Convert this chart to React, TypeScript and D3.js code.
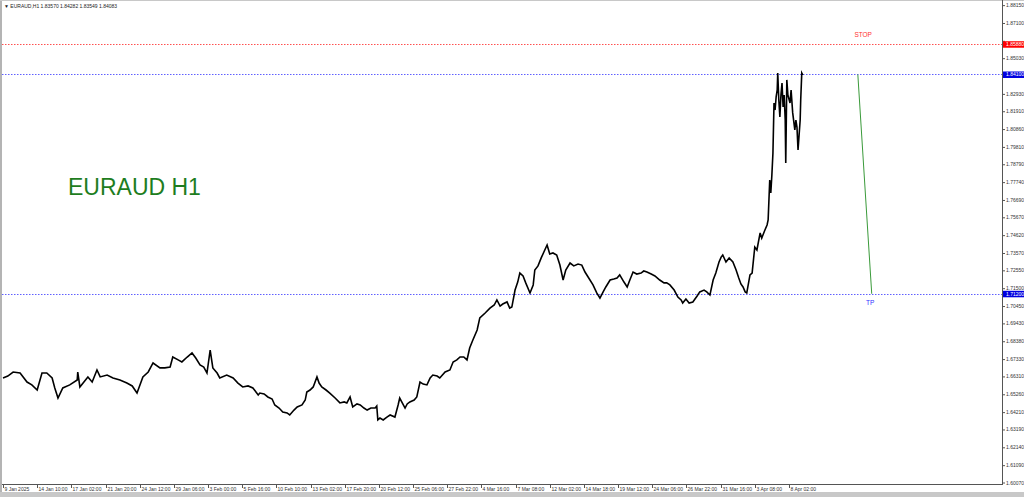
import React from "react";
import * as d3 from "d3";

const W = 1024;
const H = 497;

const symbolHeader = "EURAUD,H1  1.83570 1.84282 1.83549 1.84083";
const chartTitle = "EURAUD H1";

const barIndex: number[] = [
  0, 9, 19, 32, 45, 54, 64, 73, 82, 92, 97, 103, 112, 125, 139, 140, 144, 159, 167, 176,
  182, 195, 206, 219, 232, 242, 251, 262, 272, 281, 294, 303, 313, 318, 328, 335, 345, 354, 361, 369,
  376, 382, 388, 393, 401, 406, 419, 431, 440, 449, 459, 468, 478, 481, 489, 496, 504, 509, 517, 524,
  532, 537, 545, 551, 560, 566, 569, 575, 581, 588, 592, 597, 605, 612, 622, 631, 639, 644, 650, 655,
  663, 669, 676, 682, 689, 697, 700, 702, 706, 712, 719, 725, 734, 740, 743, 753, 757, 762, 770, 775,
  781, 787, 794, 800, 805, 813, 818, 828, 837, 843, 850, 856, 863, 869, 874, 880, 888, 893, 903, 912,
  920, 925, 931, 936, 944, 949, 953, 959, 964, 968, 974, 979, 987, 993, 996, 1002, 1008, 1013, 1019, 1024,
  1030, 1037, 1043, 1049, 1054, 1062, 1069, 1077, 1084, 1090, 1097, 1105, 1112, 1118, 1124, 1129, 1137, 1144, 1150, 1155,
  1163, 1169, 1174, 1180, 1187, 1195, 1200, 1206, 1214, 1221, 1230, 1238, 1243, 1249, 1257, 1264, 1270, 1273, 1279, 1285,
  1292, 1300, 1305, 1313, 1318, 1324, 1330, 1335, 1341, 1345, 1348, 1354, 1360, 1367, 1373, 1378, 1382, 1386, 1390, 1393,
  1399, 1403, 1408, 1412, 1418, 1421, 1427, 1431, 1433, 1436, 1438, 1440, 1442, 1444, 1446, 1448, 1450, 1451, 1453, 1455,
  1457, 1459, 1461, 1463, 1465, 1466, 1468, 1470, 1474, 1476, 1479, 1483, 1485, 1487, 1489, 1491, 1493, 1494, 1496, 1498,
];

const closePrice: number[] = [
  1.6625, 1.6636, 1.666, 1.6654, 1.6601, 1.6584, 1.6554, 1.6654, 1.6654, 1.6625, 1.6566, 1.6507, 1.6566, 1.6584, 1.6613, 1.666, 1.6572, 1.6631, 1.6601, 1.6672,
  1.6631, 1.6642, 1.6625, 1.6613, 1.6595, 1.6578, 1.6536, 1.6631, 1.666, 1.6713, 1.6684, 1.6684, 1.6689, 1.6748, 1.6731, 1.6719, 1.6748, 1.6772, 1.6742, 1.6701,
  1.6689, 1.6654, 1.6789, 1.6684, 1.6654, 1.6625, 1.6642, 1.6625, 1.6595, 1.6572, 1.6578, 1.6566, 1.6525, 1.6536, 1.6531, 1.6513, 1.6501, 1.6466, 1.6448, 1.6425,
  1.6419, 1.6407, 1.6436, 1.6454, 1.6466, 1.6495, 1.6542, 1.6554, 1.6572, 1.6631, 1.6595, 1.6572, 1.6554, 1.6536, 1.6507, 1.6478, 1.6484, 1.6478, 1.6513, 1.6454,
  1.6472, 1.6466, 1.6448, 1.6436, 1.6448, 1.6448, 1.646, 1.6378, 1.6389, 1.6378, 1.6395, 1.6407, 1.6395, 1.6466, 1.6507, 1.6448, 1.6472, 1.6484, 1.6495, 1.6513,
  1.6601, 1.6589, 1.6584, 1.6625, 1.6642, 1.6636, 1.6625, 1.666, 1.6672, 1.6719, 1.6731, 1.6748, 1.6748, 1.6731, 1.6801, 1.6848, 1.6907, 1.6978, 1.7007, 1.7036,
  1.7054, 1.7084, 1.7048, 1.706, 1.7072, 1.7036, 1.7042, 1.7142, 1.7189, 1.7242, 1.7225, 1.7184, 1.7125, 1.7172, 1.726, 1.7284, 1.7331, 1.7366, 1.7407, 1.7354,
  1.736, 1.7348, 1.7289, 1.7201, 1.726, 1.7301, 1.7284, 1.7295, 1.7289, 1.7248, 1.7213, 1.7172, 1.7125, 1.7095, 1.7131, 1.716, 1.7201, 1.7207, 1.7213, 1.7231,
  1.7189, 1.716, 1.7201, 1.7248, 1.7236, 1.7242, 1.7254, 1.7248, 1.7236, 1.7225, 1.7201, 1.7184, 1.7184, 1.7172, 1.7142, 1.7101, 1.7084, 1.7066, 1.7089, 1.7066,
  1.7072, 1.7107, 1.7131, 1.7142, 1.7131, 1.7113, 1.7201, 1.7242, 1.7307, 1.7336, 1.7348, 1.7307, 1.7331, 1.7307, 1.726, 1.7213, 1.7178, 1.716, 1.7131, 1.7125,
  1.7231, 1.7242, 1.7395, 1.7378, 1.7478, 1.7448, 1.7495, 1.7525, 1.7554, 1.7789, 1.7713, 1.7819, 1.7948, 1.8242, 1.8201, 1.8278, 1.8319, 1.8419, 1.826, 1.816,
  1.8289, 1.836, 1.8219, 1.8289, 1.8142, 1.7889, 1.8378, 1.8289, 1.8242, 1.8319, 1.8184, 1.8084, 1.8142, 1.8101, 1.7966, 1.8054, 1.8142, 1.826, 1.8419, 1.8407,
];

const yTickValues: number[] = [
  1.6007, 1.6109, 1.6214, 1.6319, 1.6421, 1.6526, 1.6631, 1.6733, 1.6838, 1.6943, 1.7045, 1.715, 1.7255, 1.7357,
  1.7462, 1.7567, 1.7669, 1.7774, 1.7879, 1.7981, 1.8086, 1.8191, 1.8293, 1.8398, 1.8503, 1.8605, 1.871, 1.8815,
];

const xTickLabels: string[] = [
  "9 Jan 2025", "14 Jan 10:00", "17 Jan 02:00", "21 Jan 20:00", "24 Jan 12:00", "29 Jan 06:00",
  "3 Feb 00:00", "5 Feb 16:00", "10 Feb 10:00", "13 Feb 02:00", "17 Feb 20:00", "20 Feb 12:00",
  "25 Feb 06:00", "27 Feb 22:00", "4 Mar 16:00", "7 Mar 08:00", "12 Mar 02:00", "14 Mar 18:00",
  "19 Mar 12:00", "24 Mar 06:00", "26 Mar 22:00", "31 Mar 16:00", "3 Apr 08:00", "8 Apr 02:00",
];
const barsPerLabel = 64;
const totalBars = 1871;

const stopLevel = 1.8588;
const entryLevel = 1.841;
const tpLevel = 1.712;
const levelLabels = ["1.85880", "1.84100", "1.71200"];

const projectionBars = [1601, 1627];
const projectionPrices = [entryLevel, tpLevel];

const FONT = "'Liberation Sans', Arial, sans-serif";

export default function App() {
  const plotLeft = 3;
  const plotRight = 1002;
  const plotBottom = 484;
  const x = d3.scaleLinear().domain([0, totalBars]).range([plotLeft, plotRight]);
  const y = d3.scaleLinear().domain([1.6007, 1.8815]).range([483, 5.64]);

  const pts: [number, number][] = barIndex.map((b, i) => [b, closePrice[i]]);
  const line = d3
    .line<[number, number]>()
    .x((d) => x(d[0]))
    .y((d) => y(d[1]));

  const proj: [number, number][] = projectionBars.map((b, i) => [b, projectionPrices[i]]);

  const levels = [
    { v: stopLevel, color: "#ff5050", box: "#ff0000", label: levelLabels[0] },
    { v: entryLevel, color: "#6060ff", box: "#0000e0", label: levelLabels[1] },
    { v: tpLevel, color: "#6060ff", box: "#0000e0", label: levelLabels[2] },
  ];

  const visibleTicks = yTickValues.filter((v) =>
    levels.every((l) => Math.abs(y(v) - y(l.v)) > 4.5)
  );

  return (
    <svg
      width={W}
      height={H}
      style={{ position: "fixed", left: 0, top: 0, background: "#ffffff" }}
      fontFamily={FONT}
    >
      <rect x={0} y={0} width={W} height={H} fill="#ffffff" />
      <rect x={0} y={0} width={2} height={H} fill="#b4b4b4" />
      <rect x={0} y={0} width={W} height={1} fill="#c8c8c8" />
      <rect x={0} y={492} width={W} height={H - 492} fill="#c8c8c8" />

      {levels.map((l, i) => (
        <line
          key={"lv" + i}
          x1={2}
          x2={plotRight}
          y1={Math.round(y(l.v)) + 0.5}
          y2={Math.round(y(l.v)) + 0.5}
          stroke={l.color}
          strokeWidth={1}
          strokeDasharray="1.5,1.5"
        />
      ))}

      <path d={line(pts) || ""} fill="none" stroke="#000" strokeWidth={1.6} strokeLinejoin="miter" />

      <path d={line(proj) || ""} fill="none" stroke="#3a9a3a" strokeWidth={1} />
      <text x={x(1611)} y={y(stopLevel) - 7} fontSize={6.5} fill="#ff3030" textAnchor="middle">
        STOP
      </text>
      <text x={x(1624)} y={y(tpLevel) + 11} fontSize={6.5} fill="#3030ff" textAnchor="middle">
        TP
      </text>

      <line x1={plotRight + 0.5} x2={plotRight + 0.5} y1={0} y2={plotBottom} stroke="#555" />
      <line x1={2} x2={plotRight + 1} y1={plotBottom + 0.5} y2={plotBottom + 0.5} stroke="#555" />

      {yTickValues.map((v, i) => (
        <line key={"ytl" + i} x1={plotRight} x2={plotRight + 3} y1={y(v)} y2={y(v)} stroke="#555" />
      ))}
      {visibleTicks.map((v, i) => (
        <text key={"yt" + i} x={plotRight + 4} y={y(v) + 1.5} fontSize={5} fill="#333">
          {v.toFixed(5)}
        </text>
      ))}

      {levels.map((l, i) => (
        <g key={"lb" + i}>
          <rect x={plotRight + 1} y={y(l.v) - 3} width={22} height={6.5} fill={l.box} />
          <text x={plotRight + 4} y={y(l.v) + 2} fontSize={5} fill="#fff">
            {l.label}
          </text>
        </g>
      ))}

      {xTickLabels.map((t, i) => {
        const px = Math.round(x(i * barsPerLabel)) + 0.5;
        return (
          <g key={"xt" + i}>
            <line x1={px} x2={px} y1={plotBottom} y2={plotBottom + 4} stroke="#555" />
            <text x={px + 1} y={plotBottom + 6.5} fontSize={5} fill="#333">
              {t}
            </text>
          </g>
        );
      })}

      <text x={4} y={8} fontSize={5} fill="#222">
        {"\u25BC " + symbolHeader}
      </text>

      <text x={68} y={195} fontSize={23} fill="#1e7d1e">
        {chartTitle}
      </text>
    </svg>
  );
}
